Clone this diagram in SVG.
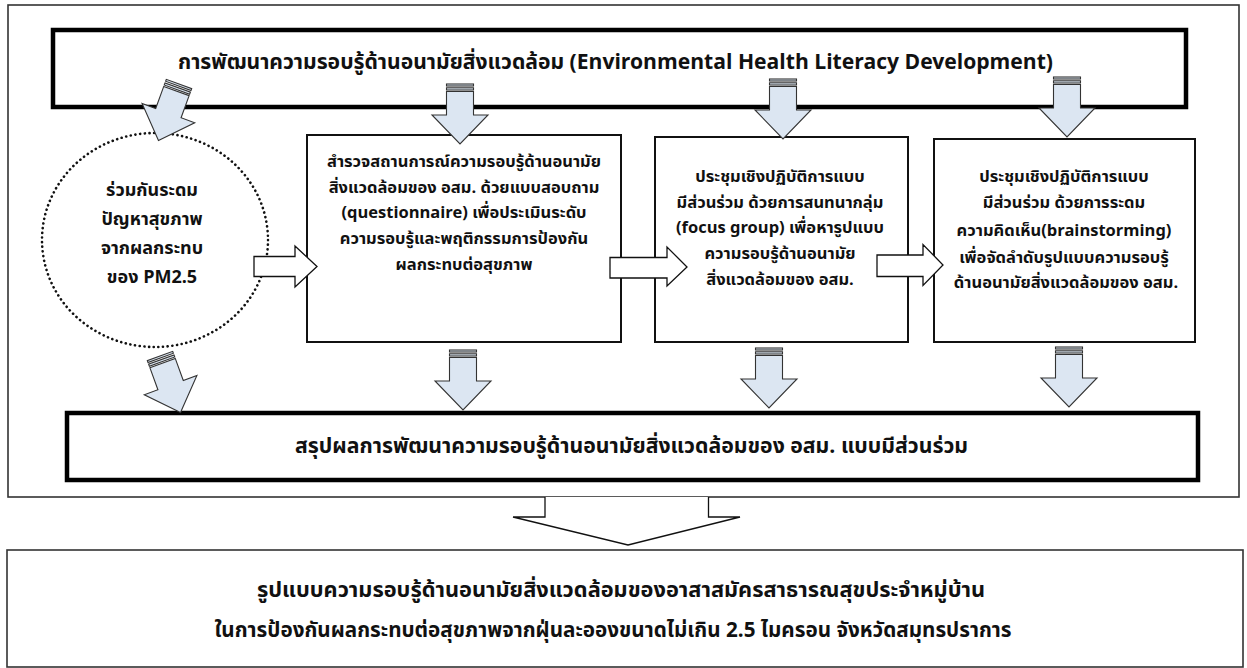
<svg xmlns="http://www.w3.org/2000/svg" width="1247" height="668" viewBox="0 0 1247 668">
<style>
text{font-family:"Noto Sans Thai","Noto Sans","Tahoma","DejaVu Sans",sans-serif;font-weight:bold;fill:#111;text-anchor:middle}
.t21{font-size:21px}
.t18{font-size:18px}
.t17{font-size:16.5px}
.thin{fill:#fff;stroke:#333;stroke-width:1.6}
.box{fill:#fff;stroke:#111;stroke-width:2}
.bar{fill:#fff;stroke:#000;stroke-width:4.5}
.hollow{fill:#fff;stroke:#111;stroke-width:1.3;stroke-linejoin:miter}
.blue{fill:#dce6f2;stroke:#333;stroke-width:1.1;stroke-linejoin:miter}
</style>
<defs>
<g id="darrow">
<rect x="-13.5" y="0" width="27" height="2" class="blue"/>
<rect x="-13.5" y="3.8" width="27" height="2.2" class="blue"/>
<path d="M-13.5,7.5 H13.5 V31 H28 L0,60 L-28,31 H-13.5 Z" class="blue"/>
</g>
</defs>
<rect id="frame" x="8" y="5" width="1231" height="492" class="thin"/>
<g id="top-bar">
<rect x="53" y="30" width="1133" height="77" class="bar"/>
<text class="t21" x="615.5" y="69" textLength="875" lengthAdjust="spacingAndGlyphs">การพัฒนาความรอบรู้ด้านอนามัยสิ่งแวดล้อม (Environmental Health Literacy Development)</text>
</g>
<g id="circle">
<ellipse cx="155" cy="240" rx="113" ry="107" fill="none" stroke="#111" stroke-width="2.6" stroke-dasharray="0.1 4.6" stroke-linecap="round"/>
<text class="t18" x="152" y="196">ร่วมกันระดม</text>
<text class="t18" x="152" y="225">ปัญหาสุขภาพ</text>
<text class="t18" x="152" y="254">จากผลกระทบ</text>
<text class="t18" x="152" y="283">ของ PM2.5</text>
</g>
<g id="box1">
<rect x="307" y="135" width="314" height="207" class="box"/>
<text class="t17" x="464" y="167">สำรวจสถานการณ์ความรอบรู้ด้านอนามัย</text>
<text class="t17" x="464" y="193">สิ่งแวดล้อมของ อสม. ด้วยแบบสอบถาม</text>
<text class="t17" x="464" y="218">(questionnaire) เพื่อประเมินระดับ</text>
<text class="t17" x="464" y="244">ความรอบรู้และพฤติกรรมการป้องกัน</text>
<text class="t17" x="464" y="270">ผลกระทบต่อสุขภาพ</text>
</g>
<g id="box2">
<rect x="655" y="137" width="253" height="205" class="box"/>
<text class="t17" x="780" y="182">ประชุมเชิงปฏิบัติการแบบ</text>
<text class="t17" x="780" y="208">มีส่วนร่วม ด้วยการสนทนากลุ่ม</text>
<text class="t17" x="780" y="233">(focus group) เพื่อหารูปแบบ</text>
<text class="t17" x="780" y="259">ความรอบรู้ด้านอนามัย</text>
<text class="t17" x="780" y="285">สิ่งแวดล้อมของ อสม.</text>
</g>
<g id="box3">
<rect x="934" y="139" width="261" height="203" class="box"/>
<text class="t17" x="1064" y="182">ประชุมเชิงปฏิบัติการแบบ</text>
<text class="t17" x="1064" y="208">มีส่วนร่วม ด้วยการระดม</text>
<text class="t17" x="1064" y="236">ความคิดเห็น(brainstorming)</text>
<text class="t17" x="1064" y="263">เพื่อจัดลำดับรูปแบบความรอบรู้</text>
<text class="t17" x="1066" y="288">ด้านอนามัยสิ่งแวดล้อมของ อสม.</text>
</g>
<g id="summary-bar">
<rect x="67" y="413" width="1131" height="67" class="bar"/>
<text class="t21" x="631.5" y="453" textLength="673" lengthAdjust="spacingAndGlyphs">สรุปผลการพัฒนาความรอบรู้ด้านอนามัยสิ่งแวดล้อมของ อสม. แบบมีส่วนร่วม</text>
</g>
<g id="result-box">
<rect x="7" y="550" width="1236" height="117" class="thin"/>
<text class="t21" x="621" y="597" textLength="728" lengthAdjust="spacingAndGlyphs">รูปแบบความรอบรู้ด้านอนามัยสิ่งแวดล้อมของอาสาสมัครสาธารณสุขประจำหมู่บ้าน</text>
<text class="t21" x="613" y="637" textLength="797" lengthAdjust="spacingAndGlyphs">ในการป้องกันผลกระทบต่อสุขภาพจากฝุ่นละอองขนาดไม่เกิน 2.5 ไมครอน จังหวัดสมุทรปราการ</text>
</g>
<g id="connectors">
<use href="#darrow" transform="translate(179,84) rotate(20)"/>
<use href="#darrow" transform="translate(460,84)"/>
<use href="#darrow" transform="translate(783,79)"/>
<use href="#darrow" transform="translate(1067,77)"/>
<use href="#darrow" transform="translate(160,356) rotate(-20)"/>
<use href="#darrow" transform="translate(463,350)"/>
<use href="#darrow" transform="translate(769,348)"/>
<use href="#darrow" transform="translate(1069,347)"/>
<path class="hollow" d="M254,256.5 H295 V246 L317,266.5 L295,287 V276.5 H254 Z"/>
<path class="hollow" d="M610,257.5 H667 V247 L687,267 L667,286 V278 H610 Z"/>
<path class="hollow" d="M877,255 H923 V244.5 L943,265 L923,285.5 V276.5 H877 Z"/>
<path class="hollow" d="M545,497 V517 H513 L628,545 L740,517 H708.5 V497"/>
</g>
</svg>
